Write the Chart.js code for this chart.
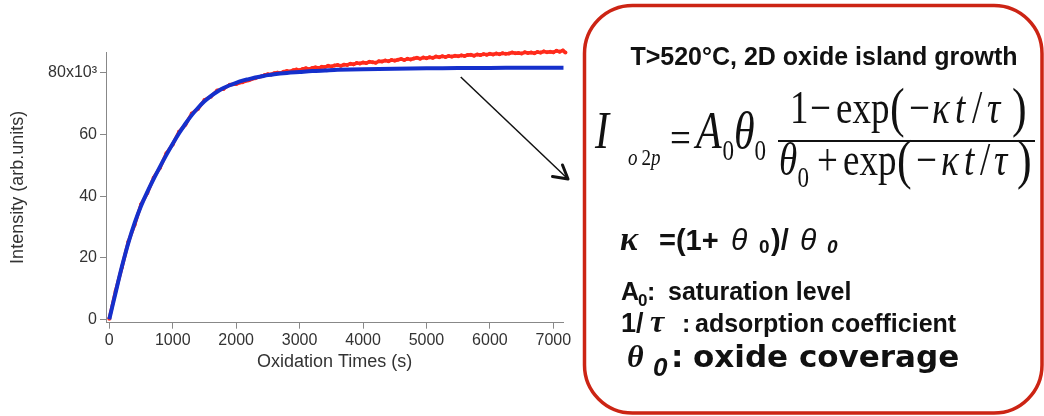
<!DOCTYPE html>
<html>
<head>
<meta charset="utf-8">
<script src="https://cdn.jsdelivr.net/npm/chart.js@4.4.1/dist/chart.umd.min.js"></script>
<style>
html, body { margin: 0; padding: 0; background: #fff; }
canvas { display: block; }
</style>
</head>
<body>
<canvas id="oxideChart" width="1044" height="416"></canvas>
<script>
// axis ticks
var xTicks = [0, 1000, 2000, 3000, 4000, 5000, 6000, 7000];
var yTicks = [0, 20, 40, 60, 80];

// fitted curve (blue), intensity in 10^3 arb. units
var fitTimes = [0, 100, 200, 300, 400, 500, 600, 700, 800, 900,
    1000, 1100, 1200, 1300, 1400, 1500, 1600, 1700, 1800, 1900,
    2000, 2100, 2200, 2300, 2400, 2500, 2600, 2800, 3000, 3200,
    3400, 3600, 4000, 4500, 5000, 5500, 6000, 6500, 7160];
var fitValues = [0, 8.7, 17.2, 24.8, 31.3, 36.8, 41.4, 45.6, 49.6, 53.4,
    57.0, 60.4, 63.5, 66.3, 68.7, 70.8, 72.5, 73.9, 75.1, 76.0,
    76.8, 77.5, 78.0, 78.5, 78.9, 79.3, 79.6, 80.0, 80.3, 80.6,
    80.8, 81.0, 81.2, 81.4, 81.5, 81.6, 81.6, 81.7, 81.7];

// measured O 2p intensity (red)
var dataTimes = [0, 100, 200, 300, 400, 500, 600, 700, 800, 900,
    1000, 1100, 1200, 1300, 1400, 1500, 1600, 1700, 1800, 1900,
    2000, 2100, 2200, 2300, 2400,
    2450, 2500, 2550, 2600, 2650, 2700, 2750, 2800, 2850, 2900,
    2950, 3000, 3050, 3100, 3150, 3200, 3250, 3300, 3350, 3400,
    3450, 3500, 3550, 3600, 3650, 3700, 3750, 3800, 3850, 3900,
    3950, 4000, 4050, 4100, 4150, 4200, 4250, 4300, 4350, 4400,
    4450, 4500, 4550, 4600, 4650, 4700, 4750, 4800, 4850, 4900,
    4950, 5000, 5050, 5100, 5150, 5200, 5250, 5300, 5350, 5400,
    5450, 5500, 5550, 5600, 5650, 5700, 5750, 5800, 5850, 5900,
    5950, 6000, 6050, 6100, 6150, 6200, 6250, 6300, 6350, 6400,
    6450, 6500, 6550, 6600, 6650, 6700, 6750, 6800, 6850, 6900,
    6950, 7000, 7050, 7100, 7150, 7190];
var dataValues = [0.2, 9.2, 17.0, 25.2, 30.7, 37.3, 41.0, 46.0, 49.2, 53.9,
    56.8, 60.9, 63.2, 66.8, 68.4, 71.2, 72.3, 74.3, 74.8, 76.2,
    76.4, 77.0, 77.6, 78.3, 78.9,
    79.3, 79.6, 79.5, 79.9, 80.1, 80.0, 80.4, 80.6, 80.5, 80.9,
    81.1, 80.9, 81.3, 81.5, 81.2, 81.6, 81.8, 81.6, 82.0, 81.9,
    82.3, 82.1, 82.4, 82.6, 82.3, 82.7, 82.6, 83.0, 82.8, 83.2,
    83.1, 83.4, 83.2, 83.6, 83.5, 83.3, 83.8, 83.7, 84.0, 83.8,
    84.2, 84.0, 84.3, 84.5, 84.2, 84.6, 84.4, 84.7, 84.9, 84.6,
    85.0, 84.8, 85.1, 84.9, 85.3, 85.1, 85.4, 85.2, 85.5, 85.3,
    85.6, 85.4, 85.7, 85.5, 85.8, 85.9, 85.6, 86.0, 85.8, 86.1,
    85.9, 86.2, 86.0, 86.3, 86.1, 86.4, 86.2, 86.3, 86.6, 86.4,
    86.5, 86.3, 86.7, 86.5, 86.6, 86.4, 86.8, 86.6, 87.0, 86.7,
    86.9, 86.7, 87.2, 86.9, 87.3, 86.6];

// where the arrow leaves the curve (data units)
var arrowFrom = { x: 5540, y: 78.7 };

var SANS = "'Liberation Sans', Arial, sans-serif";
var SERIF = "'Liberation Serif', 'Times New Roman', serif";
var WIDE = "'DejaVu Sans', sans-serif";

function toPoints(xs, ys) {
    return xs.map(function (x, i) { return { x: x, y: ys[i] }; });
}

// draw one piece of text at a baseline, optionally stretched vertically
function put(ctx, text, font, x, y, sy) {
    ctx.save();
    ctx.font = font;
    ctx.translate(x, y);
    ctx.scale(1, sy || 1);
    ctx.fillText(text, 0, 0);
    ctx.restore();
}

var notes = {
    id: 'notes',
    afterDraw: function (chart) {
        var ctx = chart.ctx;
        var sx = chart.scales.x, sy = chart.scales.y;

        // arrow from the curve to the box
        var x0 = sx.getPixelForValue(arrowFrom.x);
        var y0 = sy.getPixelForValue(arrowFrom.y);
        ctx.save();
        ctx.strokeStyle = '#111';
        ctx.lineWidth = 1.5;
        ctx.beginPath();
        ctx.moveTo(x0, y0);
        ctx.lineTo(568, 179);
        ctx.stroke();
        ctx.lineWidth = 3;
        ctx.lineCap = 'round';
        ctx.lineJoin = 'round';
        ctx.beginPath();
        ctx.moveTo(562.5, 165);
        ctx.lineTo(568, 179);
        ctx.lineTo(552.5, 176.5);
        ctx.stroke();

        // rounded red frame
        ctx.strokeStyle = '#cc2414';
        ctx.lineWidth = 3.5;
        ctx.beginPath();
        ctx.roundRect(584.5, 5.5, 457.5, 407.5, 48);
        ctx.stroke();

        ctx.fillStyle = '#111';
        ctx.textBaseline = 'alphabetic';
        ctx.textAlign = 'center';
        put(ctx, 'T>520°C, 2D oxide island growth', 'bold 25px ' + SANS, 824, 65);
        ctx.textAlign = 'left';

        // formula, a little stretched vertically like the slide
        var S = 1.25;
        put(ctx, 'I', 'italic 42px ' + SERIF, 595, 148.3, S);
        put(ctx, 'o', 'italic 19px ' + SERIF, 628, 165, S);
        put(ctx, '2', '19px ' + SERIF, 641.5, 165, S);
        put(ctx, 'p', 'italic 19px ' + SERIF, 651, 165, S);
        put(ctx, '=', '37px ' + SERIF, 670, 153, S);
        put(ctx, 'A', 'italic 42px ' + SERIF, 696, 148.3, S);
        put(ctx, '0', '23px ' + SERIF, 722.5, 160, S);
        put(ctx, 'θ', 'italic 42px ' + SERIF, 734, 148.3, S);
        put(ctx, '0', '23px ' + SERIF, 754.5, 160, S);
        ctx.fillRect(778, 140, 257, 2);

        // numerator
        put(ctx, '1', '37px ' + SERIF, 790, 123.3, S);
        put(ctx, '\u2212', '37px ' + SERIF, 810, 123.3, S);
        put(ctx, 'exp', '37px ' + SERIF, 836, 123.3, S);
        put(ctx, '(', '44px ' + SERIF, 890, 126, S);
        put(ctx, '\u2212', '37px ' + SERIF, 909, 123.3, S);
        put(ctx, 'κ', 'italic 37px ' + SERIF, 932, 123.3, S);
        put(ctx, 't', 'italic 37px ' + SERIF, 955, 123.3, S);
        put(ctx, '/', '37px ' + SERIF, 972, 123.3, S);
        put(ctx, 'τ', 'italic 37px ' + SERIF, 987, 123.3, S);
        put(ctx, ')', '44px ' + SERIF, 1012, 126, S);

        // denominator
        put(ctx, 'θ', 'italic 37px ' + SERIF, 779, 175, S);
        put(ctx, '0', '23px ' + SERIF, 797.5, 186.7, S);
        put(ctx, '+', '37px ' + SERIF, 817, 175, S);
        put(ctx, 'exp', '37px ' + SERIF, 843, 175, S);
        put(ctx, '(', '44px ' + SERIF, 897, 178, S);
        put(ctx, '\u2212', '37px ' + SERIF, 916, 175, S);
        put(ctx, 'κ', 'italic 37px ' + SERIF, 941, 175, S);
        put(ctx, 't', 'italic 37px ' + SERIF, 964, 175, S);
        put(ctx, '/', '37px ' + SERIF, 980, 175, S);
        put(ctx, 'τ', 'italic 37px ' + SERIF, 994, 175, S);
        put(ctx, ')', '44px ' + SERIF, 1017, 178, S);

        // kappa definition
        put(ctx, 'κ', 'bold italic 34px ' + SERIF, 620, 250);
        put(ctx, '=(1+', 'bold 29px ' + SANS, 659, 250);
        put(ctx, 'θ', 'italic 30px ' + SANS, 731, 250);
        put(ctx, '0', 'bold 19px ' + SANS, 759, 253);
        put(ctx, ')/', 'bold 29px ' + SANS, 771, 250);
        put(ctx, 'θ', 'italic 30px ' + SANS, 800, 250);
        put(ctx, '0', 'bold italic 19px ' + SANS, 827, 253);

        // parameter legend
        put(ctx, 'A', 'bold 25px ' + SANS, 621, 300);
        put(ctx, '0', 'bold 17px ' + SANS, 638, 306);
        put(ctx, ':', 'bold 25px ' + SANS, 647, 300);
        put(ctx, 'saturation level', 'bold 25px ' + SANS, 668, 300);

        put(ctx, '1/', 'bold 27px ' + SANS, 621, 331.7);
        put(ctx, 'τ', 'bold italic 32px ' + SERIF, 650, 331.7);
        put(ctx, ':', 'bold 25px ' + SANS, 682, 331.7);
        put(ctx, 'adsorption coefficient', 'bold 25px ' + SANS, 695, 331.7);

        put(ctx, 'θ', 'bold italic 32px ' + SERIF, 627, 367);
        put(ctx, '0', 'bold italic 26px ' + SANS, 653, 376);
        put(ctx, ':', 'bold 31px ' + WIDE, 671, 367);
        put(ctx, 'oxide coverage', 'bold 31px ' + WIDE, 693, 367);
        ctx.restore();
    }
};

var ctx = document.getElementById('oxideChart');
var myChart = new Chart(ctx, {
    type: 'scatter',
    data: {
        datasets: [{
            label: 'Fit',
            data: toPoints(fitTimes, fitValues),
            showLine: true,
            borderColor: '#1530cc',
            backgroundColor: '#1530cc',
            borderWidth: 4,
            pointRadius: 0,
            tension: 0.3,
            clip: false
        }, {
            label: 'O 2p intensity',
            data: toPoints(dataTimes, dataValues),
            showLine: true,
            borderColor: '#ff2b1c',
            backgroundColor: '#ff2b1c',
            borderWidth: 3.5,
            pointRadius: 2,
            pointBorderWidth: 0,
            tension: 0,
            clip: false
        }]
    },
    options: {
        responsive: false,
        animation: false,
        devicePixelRatio: 1,
        layout: {
            padding: { left: 0, top: 52, right: 480.7, bottom: 0 }
        },
        plugins: {
            legend: { display: false },
            tooltip: { enabled: false }
        },
        scales: {
            x: {
                type: 'linear',
                min: -52,
                max: 7157,
                afterBuildTicks: function (scale) {
                    scale.ticks = xTicks.map(function (v) { return { value: v }; });
                },
                afterFit: function (scale) { scale.height = 93.3; },
                grid: { drawOnChartArea: false, tickLength: 6, color: '#888' },
                border: { color: '#888', width: 1 },
                ticks: {
                    color: '#333',
                    padding: 2,
                    maxRotation: 0,
                    autoSkip: false,
                    font: { family: SANS, size: 16 },
                    callback: function (v) { return String(v); }
                },
                title: {
                    display: true,
                    text: 'Oxidation Times (s)',
                    color: '#333',
                    font: { family: SANS, size: 18 },
                    padding: { top: 0, bottom: 42.7 }
                }
            },
            y: {
                type: 'linear',
                min: -1.1,
                max: 86.8,
                afterBuildTicks: function (scale) {
                    scale.ticks = yTicks.map(function (v) { return { value: v }; });
                },
                afterFit: function (scale) { scale.width = 106; },
                grid: { drawOnChartArea: false, tickLength: 6, color: '#888' },
                border: { color: '#888', width: 1 },
                ticks: {
                    color: '#333',
                    padding: 3,
                    font: { family: SANS, size: 16 },
                    callback: function (v) { return v === 80 ? '80x10\u00b3' : String(v); }
                },
                title: {
                    display: true,
                    text: 'Intensity (arb.units)',
                    color: '#333',
                    font: { family: SANS, size: 18 },
                    padding: { top: 7.5, bottom: 0 }
                }
            }
        }
    },
    plugins: [notes]
});
</script>
</body>
</html>
